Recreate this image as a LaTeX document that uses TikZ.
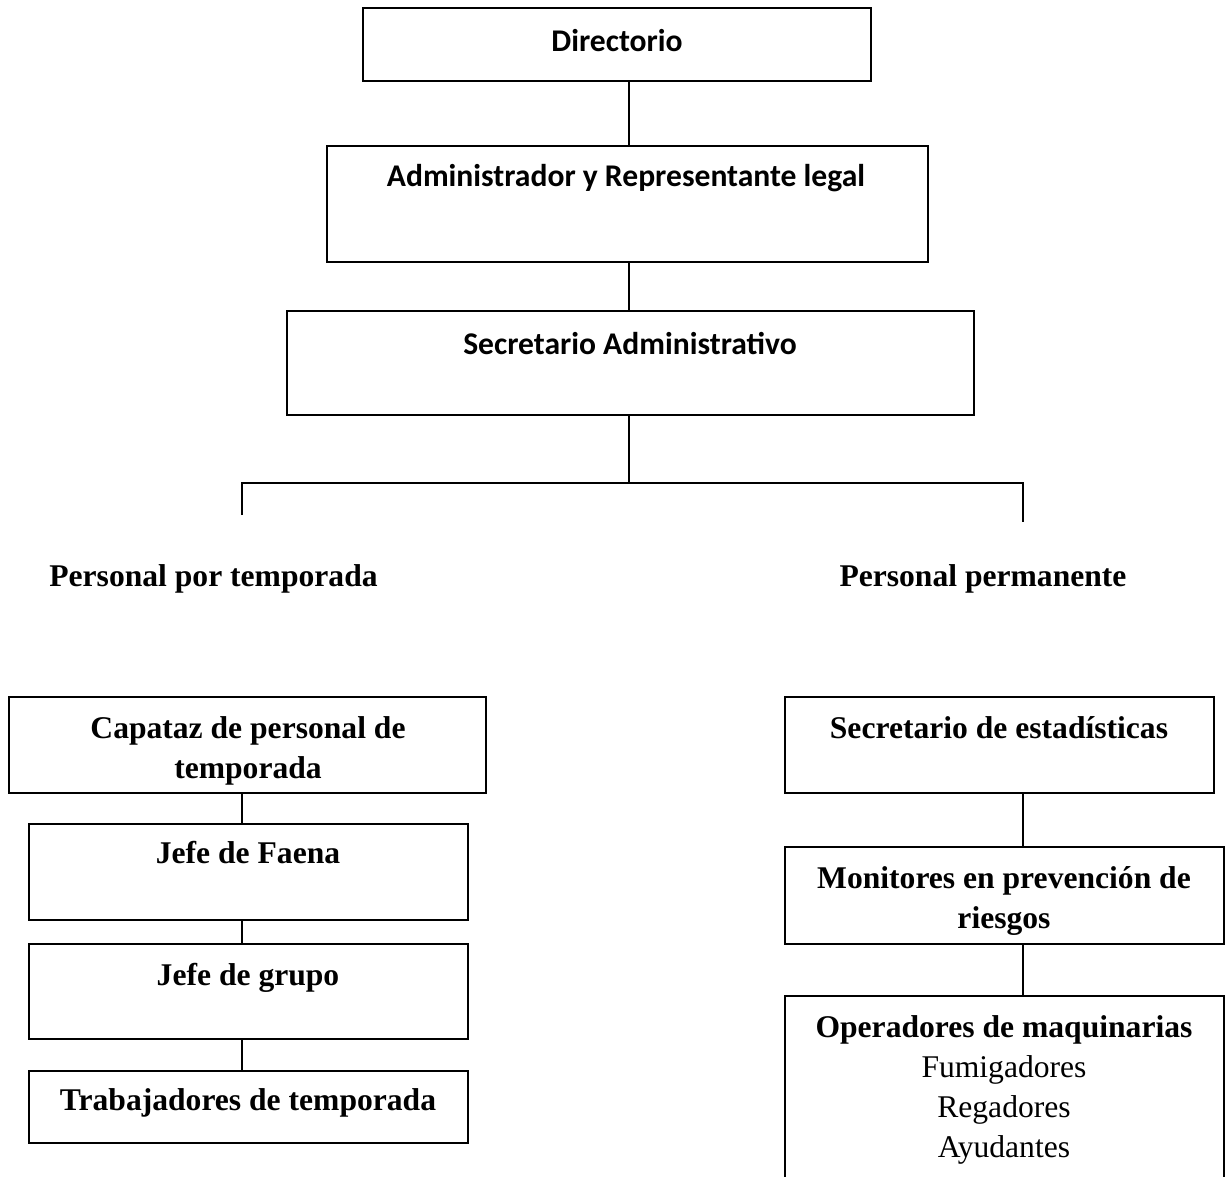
\documentclass[tikz,border=0pt]{standalone}
\usepackage{fontspec}
\setmainfont{Liberation Serif}
\newfontfamily\calibri{Carlito}
\usetikzlibrary{calc}

\tikzset{
  box/.style={draw, line width=0.9pt, inner sep=0pt},
  link/.style={line width=0.9pt},
  calbold/.style={font=\calibri\bfseries\fontsize{15.8}{20}\selectfont, anchor=base},
  tnrbold/.style={font=\bfseries\fontsize{15.8}{20}\selectfont, align=center, anchor=base},
  tnrplain/.style={font=\fontsize{15.8}{20}\selectfont, align=center, anchor=base},
}

\begin{document}
\begin{tikzpicture}[x=0.5pt, y=-0.5pt]
    \useasboundingbox (0,0) rectangle (1228,1177);
    \clip (0,0) rectangle (1228,1177);
    % Spine and column lines
    \coordinate (spine) at (629,0);
    \coordinate (colL) at (242,0);
    \coordinate (colR) at (1023,0);
    % Upper chain
    \node[box, minimum width=254pt, minimum height=36.5pt] (dir) at (617,44.5) {};
    \node[calbold] (dirt) at (617,52) {Directorio};
    \node[box, minimum width=300.5pt, minimum height=58pt] (adm) at (627.5,204) {};
    \node[calbold] (admt) at (626,187) {Administrador y Representante legal};
    \node[box, minimum width=343.5pt, minimum height=52pt] (sec) at (630.5,363) {};
    \node[calbold] (sect) at (630,354) {Secretario Administrativo};
    \draw[link] (dir.south -| spine) -- (adm.north -| spine);
    \draw[link] (adm.south -| spine) -- (sec.north -| spine);
    % Branching bar
    \coordinate (bus) at (629,483);
    \coordinate (busl) at (242,483);
    \coordinate (busr) at (1023,483);
    \coordinate (dropl) at (242,515);
    \coordinate (dropr) at (1023,522);
    \draw[link] (sec.south -| spine) -- (bus);
    \draw[link] (dropl) -- (busl) -- (busr) -- (dropr);
    % Group headings
    \node[tnrbold] (tmp) at (213.5,586) {Personal por temporada};
    \node[tnrbold] (perm) at (983,586) {Personal permanente};
    % Left column
    \node[box, minimum width=238.5pt, minimum height=48pt] (cap) at (247.5,745) {};
    \node[tnrbold] (capt) at (248,778) {Capataz de personal de\\temporada};
    \node[box, minimum width=219.5pt, minimum height=48pt] (fae) at (248.5,872) {};
    \node[tnrbold] (faet) at (248,863) {Jefe de Faena};
    \node[box, minimum width=219.5pt, minimum height=47.5pt] (gru) at (248.5,991.5) {};
    \node[tnrbold] (grut) at (248,985) {Jefe de grupo};
    \node[box, minimum width=219.5pt, minimum height=36pt] (tra) at (248.5,1107) {};
    \node[tnrbold] (trat) at (248,1110) {Trabajadores de temporada};
    \draw[link] (cap.south -| colL) -- (fae.north -| colL);
    \draw[link] (fae.south -| colL) -- (gru.north -| colL);
    \draw[link] (gru.south -| colL) -- (tra.north -| colL);
    % Right column
    \node[box, minimum width=214.5pt, minimum height=48pt] (est) at (999.5,745) {};
    \node[tnrbold] (estt) at (999,738) {Secretario de estadísticas};
    \node[box, minimum width=219.5pt, minimum height=48.5pt] (mon) at (1004.5,895.5) {};
    \node[tnrbold] (mont) at (1004,928) {Monitores en prevención de\\riesgos};
    \node[box, minimum width=219.5pt, minimum height=97pt] (ope) at (1004.5,1093) {};
    \node[tnrplain] (opet) at (1004,1157) {\textbf{Operadores de maquinarias}\\Fumigadores\\Regadores\\Ayudantes};
    \draw[link] (est.south -| colR) -- (mon.north -| colR);
    \draw[link] (mon.south -| colR) -- (ope.north -| colR);
\end{tikzpicture}
\end{document}
